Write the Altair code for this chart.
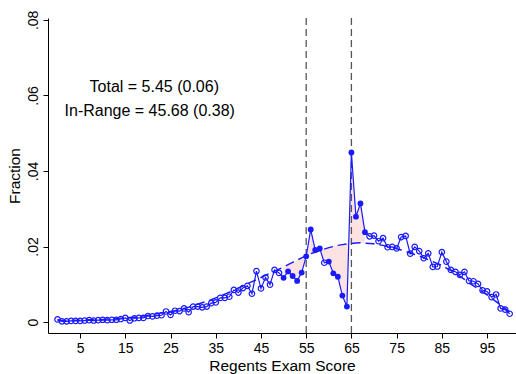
import altair as alt
import pandas as pd

# Share of students at each Regents exam score (0-100)
scores = list(range(0, 101))
observed = [
    0.0007, 0.0002, 0.0002, 0.0003, 0.0003, 0.0003, 0.0004, 0.0005, 0.0004, 0.0005,
    0.0006, 0.0005, 0.0006, 0.0006, 0.0008, 0.0011, 0.0004, 0.0010, 0.0011, 0.0011,
    0.0016, 0.0015, 0.0017, 0.0018, 0.0028, 0.0019, 0.0030, 0.0029, 0.0036, 0.0026,
    0.0041, 0.0041, 0.0039, 0.0041, 0.0050, 0.0052, 0.0064, 0.0064, 0.0067, 0.0085,
    0.0078, 0.0090, 0.0096, 0.0075, 0.0135, 0.0089, 0.0118, 0.0099, 0.0138, 0.0130,
    0.0117, 0.0134, 0.0122, 0.0109, 0.0131, 0.0174, 0.0245, 0.0191, 0.0195, 0.0157,
    0.0160, 0.0129, 0.0120, 0.0070, 0.0041, 0.0449, 0.0279, 0.0314, 0.0238, 0.0227,
    0.0229, 0.0214, 0.0222, 0.0198, 0.0199, 0.0195, 0.0225, 0.0228, 0.0181, 0.0199,
    0.0188, 0.0169, 0.0182, 0.0146, 0.0147, 0.0185, 0.0160, 0.0138, 0.0133, 0.0125,
    0.0133, 0.0109, 0.0108, 0.0101, 0.0084, 0.0081, 0.0066, 0.0073, 0.0036, 0.0033,
    0.0022,
]
# Counterfactual (smoothed) distribution
counterfactual = [
    0.0004, 0.0004, 0.0004, 0.0004, 0.0005, 0.0005, 0.0005, 0.0006, 0.0006, 0.0007,
    0.0007, 0.0008, 0.0008, 0.0009, 0.0010, 0.0011, 0.0012, 0.0013, 0.0014, 0.0016,
    0.0018, 0.0020, 0.0022, 0.0024, 0.0026, 0.0028, 0.0030, 0.0033, 0.0036, 0.0039,
    0.0043, 0.0047, 0.0051, 0.0055, 0.0059, 0.0064, 0.0069, 0.0074, 0.0079, 0.0084,
    0.0090, 0.0095, 0.0101, 0.0107, 0.0112, 0.0118, 0.0124, 0.0129, 0.0135, 0.0140,
    0.0146, 0.0152, 0.0158, 0.0164, 0.0170, 0.0176, 0.0181, 0.0185, 0.0189, 0.0193,
    0.0197, 0.0200, 0.0203, 0.0205, 0.0207, 0.0208, 0.0209, 0.0210, 0.0209, 0.0208,
    0.0207, 0.0205, 0.0203, 0.0200, 0.0197, 0.0194, 0.0191, 0.0187, 0.0183, 0.0179,
    0.0175, 0.0170, 0.0165, 0.0160, 0.0155, 0.0150, 0.0143, 0.0136, 0.0129, 0.0121,
    0.0113, 0.0104, 0.0096, 0.0088, 0.0080, 0.0072, 0.0063, 0.0054, 0.0045, 0.0036,
    0.0027,
]
# Scores drawn with solid markers (manipulation region)
solid_scores = [50, 51, 52, 53, 54, 55, 56, 57, 58, 60, 61, 62, 63, 64, 65, 66, 67, 68]
shade_range = [50, 68]
cutoffs = [55, 65]
x_ticks = [5, 15, 25, 35, 45, 55, 65, 75, 85, 95]
y_ticks = [0, 0.02, 0.04, 0.06, 0.08]
notes = ["Total = 5.45 (0.06)", "In-Range = 45.68 (0.38)"]
note_x = [21.4, 20.4]
note_y = [0.0622, 0.0558]

df = pd.DataFrame({"score": scores, "obs": observed, "fit": counterfactual})
df["solid"] = df["score"].isin(solid_scores)

FONT = "Liberation Sans"
BLUE = "#1a1aff"

x_scale = alt.Scale(domain=[-2.1, 101.4], nice=False, zero=False)
y_scale = alt.Scale(domain=[-0.0029, 0.0805], nice=False, zero=False)

x_enc = alt.X(
    "score:Q", scale=x_scale,
    axis=alt.Axis(values=x_ticks, title="Regents Exam Score", grid=False,
                  labelFontSize=14, titleFontSize=15.5, titleFontWeight="normal",
                  labelPadding=3, titlePadding=3, tickSize=5, labelFlush=False,
                  domainColor="black", tickColor="black", labelColor="black",
                  titleColor="black", labelFont=FONT, titleFont=FONT),
)
y_axis = alt.Axis(values=y_ticks, title="Fraction", grid=False,
                  labelExpr="datum.value == 0 ? '0' : substring(format(datum.value, '.2f'), 1)",
                  labelAngle=-90, labelAlign="center", labelBaseline="bottom",
                  labelFontSize=14, titleFontSize=15.5, titleFontWeight="normal",
                  labelPadding=3, titlePadding=4, tickSize=5,
                  domainColor="black", tickColor="black", labelColor="black",
                  titleColor="black", labelFont=FONT, titleFont=FONT)

base = alt.Chart(df)

shade = base.transform_filter(
    (alt.datum.score >= shade_range[0]) & (alt.datum.score <= shade_range[1])
).mark_area(color="#fde2e2", opacity=1).encode(
    x=x_enc,
    y=alt.Y("obs:Q", scale=y_scale, axis=y_axis),
    y2="fit:Q",
)

cut_df = pd.DataFrame({"cut": cutoffs})
rules = alt.Chart(cut_df).mark_rule(color="#555555", strokeWidth=1.3, strokeDash=[7, 4]).encode(
    x=alt.X("cut:Q", scale=x_scale),
)

fit_line = base.mark_line(color=BLUE, strokeWidth=1.5, strokeDash=[9, 5]).encode(
    x=alt.X("score:Q", scale=x_scale),
    y=alt.Y("fit:Q", scale=y_scale),
)

obs_line = base.mark_line(color=BLUE, strokeWidth=1.2).encode(
    x=alt.X("score:Q", scale=x_scale),
    y=alt.Y("obs:Q", scale=y_scale),
)

hollow = base.transform_filter(~alt.datum.solid).mark_point(
    shape="circle", filled=False, color=BLUE, size=30, strokeWidth=1.2, opacity=1
).encode(
    x=alt.X("score:Q", scale=x_scale),
    y=alt.Y("obs:Q", scale=y_scale),
)

solid = base.transform_filter(alt.datum.solid).mark_point(
    shape="circle", filled=True, color=BLUE, size=34, opacity=1
).encode(
    x=alt.X("score:Q", scale=x_scale),
    y=alt.Y("obs:Q", scale=y_scale),
)

note_df = pd.DataFrame({"label": notes, "x": note_x, "y": note_y})
text = alt.Chart(note_df).mark_text(font=FONT, fontSize=16, color="black",
                                     align="center", baseline="middle").encode(
    x=alt.X("x:Q", scale=x_scale),
    y=alt.Y("y:Q", scale=y_scale),
    text="label:N",
)

chart = alt.layer(shade, rules, fit_line, obs_line, hollow, solid, text).properties(
    width=468, height=315,
    autosize=alt.AutoSizeParams(type="none"),
    padding={"left": 48, "top": 18, "right": 0, "bottom": 41},
    background="white",
).configure_view(strokeWidth=0)

chart.save("out.html", embed_options={"renderer": "svg", "actions": False})
